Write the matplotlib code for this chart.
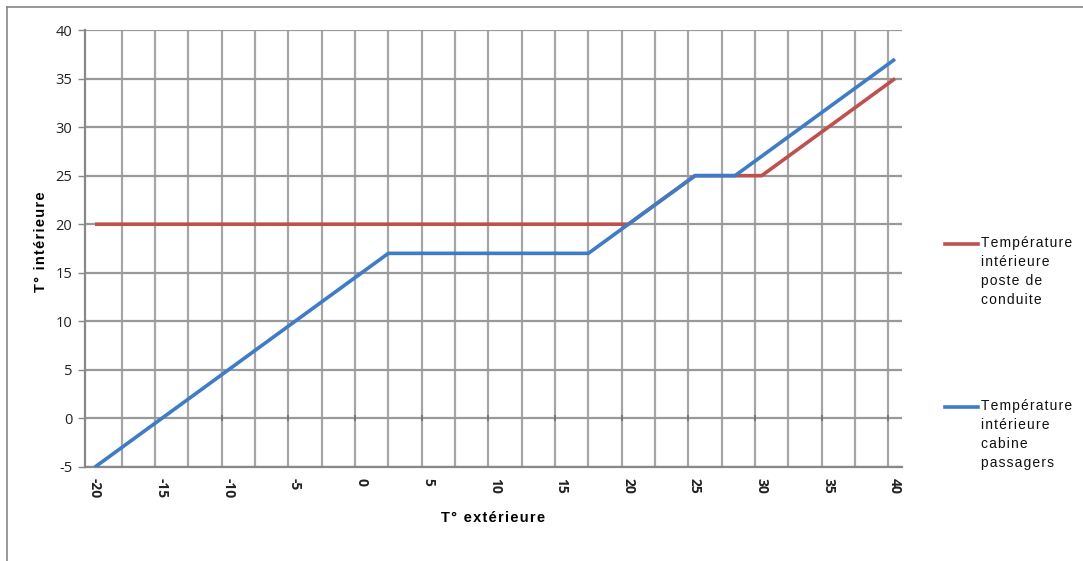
import matplotlib.pyplot as plt
import numpy as np
from matplotlib.lines import Line2D

# data
cab_x = [-20, 2, 17, 25, 28, 40]
cab_y = [-5, 17, 17, 25, 25, 37]
cond_x = [-20, 20, 25, 30, 40]
cond_y = [20, 20, 25, 25, 35]
x_ticks = [-20, -15, -10, -5, 0, 5, 10, 15, 20, 25, 30, 35, 40]
y_ticks = [-5, 0, 5, 10, 15, 20, 25, 30, 35, 40]

lbl_cond = 'Température\nintérieure\nposte de\nconduite'
lbl_cab = 'Température\nintérieure\ncabine\npassagers'

red = '#C0504D'
blue = '#3D7CC9'
grid_c = '#A6A6A6'

def spaced(s):
    # mimic the wide letter spacing of the original
    return '\u200a'.join(s)

fig = plt.figure(figsize=(10.83, 5.61), dpi=100)
ax = fig.add_axes([85/1083, 1 - 467/561, (901.7 - 85)/1083, (467 - 30)/561])

ax.set_xlim(-20.75, 40.5)
ax.set_ylim(-5, 40)

# vertical grid (category separators of the original chart)
for gx in np.arange(-18, 40, 2.5):
    ax.axvline(gx, color=grid_c, lw=1.6, zorder=1)
for gy in y_ticks:
    ax.axhline(gy, color='#999999', lw=1.6, zorder=1)
# small marks where the category axis crosses at 0
mark_x = np.arange(-10.5, 40, 5)
ax.plot(mark_x, np.zeros(len(mark_x)), ls='none', marker='|', ms=5, mew=1.4,
        color='#777777', zorder=2)

ax.plot(cond_x, cond_y, color=red, lw=2.6, zorder=3, solid_capstyle='butt')
ax.plot(cab_x, cab_y, color=blue, lw=2.6, zorder=4, solid_capstyle='butt')

ax.set_xticks(x_ticks)
ax.set_xticklabels([str(v) for v in x_ticks], rotation=270, fontsize=10,
                   fontfamily='Open Sans', fontweight='bold', color='#222222')
ax.set_yticks(y_ticks)
ax.set_yticklabels([str(v) for v in y_ticks], fontsize=10.5,
                   fontfamily='Open Sans', color='#222222')
ax.tick_params(axis='x', length=0, pad=8)
ax.tick_params(axis='y', length=5, width=1, color='#888888', pad=4)

for s in ['top', 'right']:
    ax.spines[s].set_visible(False)
for s in ['left', 'bottom']:
    ax.spines[s].set_color('#888888')
    ax.spines[s].set_linewidth(1.6)

ax.set_xlabel(spaced('T° extérieure'), fontsize=10.5, fontweight='bold',
              fontfamily='Liberation Sans', labelpad=9)
fig.text(41/1083, 1 - 242/561, spaced('T° intérieure'), rotation=90,
         fontsize=10.5, fontweight='bold', fontfamily='Liberation Sans',
         ha='center', va='center')

# legend drawn by hand to follow the original layout
for yl, col, lbl in [(244, red, lbl_cond), (407, blue, lbl_cab)]:
    fig.add_artist(Line2D([945/1083, 978/1083], [1 - yl/561, 1 - yl/561],
                          color=col, lw=2.6, transform=fig.transFigure))
    fig.text(981/1083, 1 - (yl - 8)/561,
             '\n'.join(spaced(l) for l in lbl.split('\n')),
             fontsize=10, fontfamily='Liberation Sans', va='top', ha='left',
             linespacing=1.45, color='#111111')

# outer frame of the original picture
fig.add_artist(Line2D([7/1083, 7/1083], [0, 1 - 7/561], color='#888888', lw=1.2))
fig.add_artist(Line2D([7/1083, 1], [1 - 7/561, 1 - 7/561], color='#888888', lw=1.2))

plt.savefig('out.png', dpi=100)
